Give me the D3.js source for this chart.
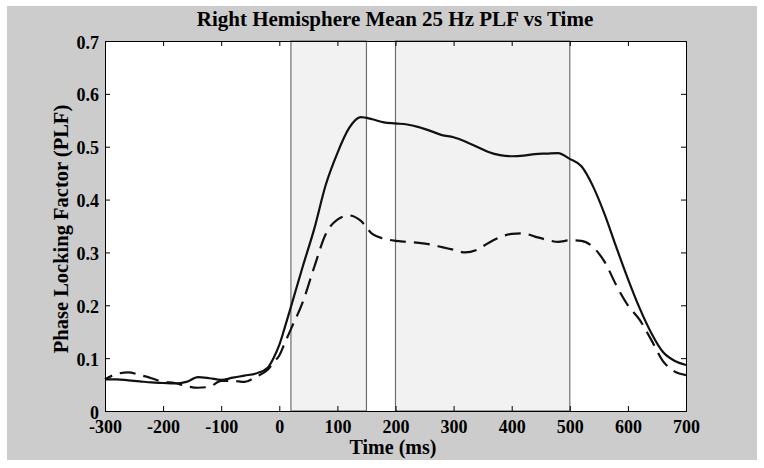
<!DOCTYPE html>
<html>
<head>
<meta charset="utf-8">
<title>Right Hemisphere Mean 25 Hz PLF vs Time</title>
<script src="https://cdnjs.cloudflare.com/ajax/libs/d3/7.8.5/d3.min.js"></script>
<style>
body { margin: 0; background: #fff; }
text { font-family: "Liberation Serif", "Times New Roman", serif; font-weight: bold; fill: #000; }
</style>
</head>
<body>
<script>

// time points (ms)
var timeMs = [-300,-280,-260,-240,-220,-200,-180,-160,-140,-120,-100,-80,-60,-40,-20,-10,0,10,
  20,40,60,80,100,120,140,160,180,200,220,240,260,280,300,320,340,360,380,400,420,440,460,480,
  500,520,540,560,580,600,620,640,660,680,700];

// solid trace
var plfSolid = [.060,.060,.058,.056,.054,.053,.052,.055,.064,.062,.059,.063,.067,.071,.082,.100,.125,.160,
  .197,.272,.344,.428,.488,.535,.556,.552,.546,.544,.542,.537,.530,.522,.518,.510,.500,.490,.484,.482,.483,.486,.487,.488,
  .477,.463,.425,.372,.310,.250,.195,.148,.112,.095,.087];

// dashed trace
var plfDashed = [.060,.070,.073,.068,.062,.055,.053,.047,.044,.046,.057,.057,.055,.065,.078,.092,.105,.130,
  .155,.205,.272,.335,.362,.370,.360,.335,.326,.322,.320,.318,.315,.310,.305,.300,.305,.318,.329,.335,.336,.330,.324,.320,
  .323,.322,.310,.282,.238,.200,.173,.135,.095,.075,.068];

// shaded analysis windows (ms)
var windows = [[20, 150], [200, 500]];

var xTicks = [-300,-200,-100,0,100,200,300,400,500,600,700];
var yTicks = [0,0.1,0.2,0.3,0.4,0.5,0.6,0.7];

var W = 764, H = 468;
var pL = 105, pR = 686, pT = 41, pB = 411;

var svg = d3.select("body").append("svg")
  .attr("width", W).attr("height", H);

// grey figure background
svg.append("rect").attr("x", 7).attr("y", 6).attr("width", 750).attr("height", 454)
  .attr("fill", "#cccccc");

var x = d3.scaleLinear().domain([-300, 700]).range([pL, pR]);
var y = d3.scaleLinear().domain([0, 0.7]).range([pB, pT]);

svg.append("rect").attr("x", pL).attr("y", pT)
  .attr("width", pR - pL).attr("height", pB - pT).attr("fill", "#fff");

// windows
svg.append("g").selectAll("rect").data(windows).enter().append("rect")
  .attr("x", function(d) { return x(d[0]); })
  .attr("y", pT)
  .attr("width", function(d) { return x(d[1]) - x(d[0]); })
  .attr("height", pB - pT)
  .attr("fill", "#f2f2f2")
  .attr("stroke", "#6e6e6e")
  .attr("stroke-width", 1.2);

var line = function(vals) {
  return d3.line()
    .x(function(d, i) { return x(timeMs[i]); })
    .y(function(d) { return y(d); })
    .curve(d3.curveMonotoneX)(vals);
};

svg.append("path").attr("d", line(plfSolid))
  .attr("fill", "none").attr("stroke", "#111").attr("stroke-width", 2.2);

svg.append("path").attr("d", line(plfDashed))
  .attr("fill", "none").attr("stroke", "#111").attr("stroke-width", 2.2)
  .attr("stroke-dasharray", "16,8").attr("stroke-dashoffset", 8);

// axes (MATLAB style box, ticks inward)
var tickLen = 5;
var xAxisB = d3.axisBottom(x).tickValues(xTicks).tickSize(-tickLen)
  .tickFormat(function(d) { return String(d); });
var gx = svg.append("g").attr("transform", "translate(0," + pB + ")").call(xAxisB);
gx.selectAll("text").style("font-size", "18px").attr("y", 22).attr("dy", 0);

var xAxisT = d3.axisTop(x).tickValues(xTicks).tickSize(-tickLen).tickFormat("");
svg.append("g").attr("transform", "translate(0," + pT + ")").call(xAxisT);

var yAxisL = d3.axisLeft(y).tickValues(yTicks).tickSize(-tickLen).tickPadding(6)
  .tickFormat(function(d) { return d === 0 ? "0" : d3.format(".1f")(d); });
var gy = svg.append("g").attr("transform", "translate(" + pL + ",0)").call(yAxisL);
gy.selectAll("text").style("font-size", "18px").attr("dy", 7);

var yAxisR = d3.axisRight(y).tickValues(yTicks).tickSize(-tickLen).tickFormat("");
svg.append("g").attr("transform", "translate(" + pR + ",0)").call(yAxisR);

svg.selectAll(".domain").attr("stroke", "#000");
svg.selectAll(".tick line").attr("stroke", "#000");

// titles
svg.append("text").attr("x", 395).attr("y", 26).attr("text-anchor", "middle")
  .style("font-size", "21px").text("Right Hemisphere Mean 25 Hz PLF vs Time");

svg.append("text").attr("x", 393).attr("y", 454).attr("text-anchor", "middle")
  .style("font-size", "20px").text("Time (ms)");

svg.append("text").attr("transform", "translate(68,229) rotate(-90)")
  .attr("text-anchor", "middle")
  .style("font-size", "20.5px").text("Phase Locking Factor (PLF)");

</script>
</body>
</html>
